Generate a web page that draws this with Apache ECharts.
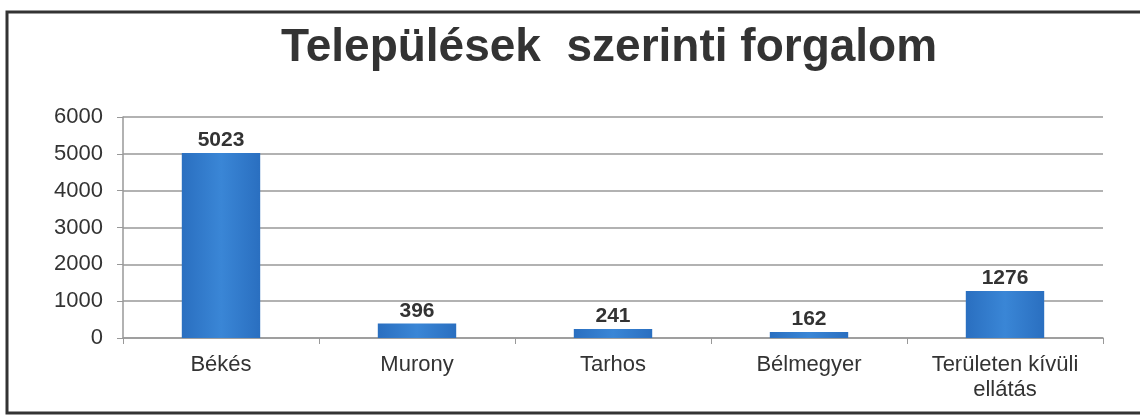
<!DOCTYPE html>
<html>
<head>
<meta charset="utf-8">
<script src="https://cdn.jsdelivr.net/npm/echarts@6/dist/echarts.min.js"></script>
<style>
html,body{margin:0;padding:0;background:#fff;}
#chart{width:1140px;height:419px;}
</style>
</head>
<body>
<div id="chart"></div>
<script>
const categories = ['Békés', 'Murony', 'Tarhos', 'Bélmegyer', 'Területen kívüli\nellátás'];
const values = [5023, 396, 241, 162, 1276];
const yTicks = [0, 1000, 2000, 3000, 4000, 5000, 6000];
const titleText = 'Települések  szerinti forgalom';

const chart = echarts.init(document.getElementById('chart'));
chart.setOption({
  backgroundColor: '#fff',
  animation: false,
  title: {
    text: titleText,
    left: 276,
    top: 20,
    textStyle: {
      fontFamily: '"Liberation Sans", Arial, sans-serif',
      fontWeight: 'bold',
      fontSize: 46,
      color: '#333'
    }
  },
  graphic: [{
    type: 'rect',
    shape: {x: 7, y: 12, width: 1140, height: 401},
    style: {fill: 'none', stroke: '#333', lineWidth: 3},
    silent: true,
    z: 100
  }],
  grid: {left: 123, right: 37, top: 117, bottom: 81, containLabel: false},
  xAxis: {
    type: 'category',
    data: categories,
    axisLine: {show: true, lineStyle: {color: '#999', width: 1.5}},
    axisTick: {show: true, alignWithLabel: false, length: 6, lineStyle: {color: '#999'}},
    axisLabel: {
      fontFamily: 'Liberation Sans, Arial, sans-serif',
      fontSize: 22,
      color: '#333',
      margin: 14,
      lineHeight: 25,
      interval: 0
    }
  },
  yAxis: {
    type: 'value',
    min: yTicks[0],
    max: yTicks[yTicks.length - 1],
    interval: 1000,
    axisLine: {show: true, lineStyle: {color: '#999', width: 1.5}},
    axisTick: {show: true, length: 6, lineStyle: {color: '#999'}},
    splitLine: {show: true, lineStyle: {color: '#999', width: 1.5}},
    axisLabel: {
      fontFamily: 'Liberation Sans, Arial, sans-serif',
      fontSize: 22,
      color: '#333',
      margin: 20,
      formatter: function (v) { return String(v); }
    }
  },
  series: [{
    type: 'bar',
    data: values,
    barWidth: '40%',
    itemStyle: {
      color: new echarts.graphic.LinearGradient(0, 0, 1, 0, [
        {offset: 0, color: '#2a6fc0'},
        {offset: 0.5, color: '#3a86d6'},
        {offset: 1, color: '#2a6fc0'}
      ])
    },
    label: {
      show: true,
      position: 'top',
      distance: 2,
      fontFamily: 'Liberation Sans, Arial, sans-serif',
      fontWeight: 'bold',
      fontSize: 21,
      color: '#333'
    }
  }]
});
</script>
</body>
</html>
